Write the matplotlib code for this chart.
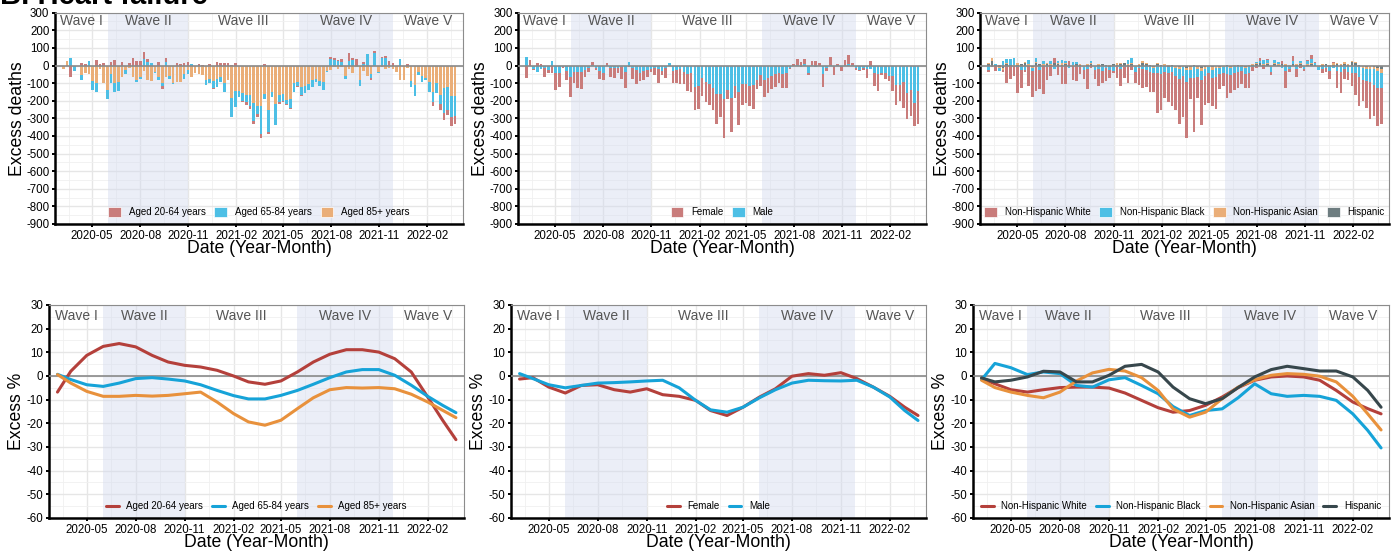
import numpy as np
import pandas as pd
import matplotlib
matplotlib.use('Agg')
import matplotlib.pyplot as plt
from matplotlib.patches import Patch

plt.rcParams['font.family'] = ['Liberation Sans', 'DejaVu Sans']
plt.rcParams['axes.unicode_minus'] = False

# weekly excess deaths, first week 2020-03-07
weeks = pd.date_range('2020-03-07', periods=108, freq='7D')

# panel 1: age groups
age_20_64 = [0, 0, -68, 0, 0, 15, 10, 0, 0, 30, 10, 15, 0, 20, 30, 0, 20, 0, 15, 40,
             25, 25, 40, 15, 0, 0, 20, -15, 25, 0, 0, 15, 10, 15, 20, 0, 0, 10, 5, 0,
             10, -11, 20, 15, 15, 15, 5, 15, 0, -10, -15, -15, -15, -15, -20, 10, -15, 0, 0, -10,
             -10, -5, -5, 0, -5, -5, 0, 0, 0, 0, 0, 0, 0, 15, 10, 5, 15, 0, 45, 10,
             35, 0, 10, 0, -10, 15, 0, 10, 15, 20, 15, 0, 0, 0, 10, 0, 0, 0, 0, 0,
             0, -20, 0, -30, -40, -30, -55, -45]
age_65_84 = [0, 0, 40, -25, -5, -28, 0, 25, -50, -50, 0, 0, -52, -52, -50, -55, 0, -23, 0, 0,
             -15, -15, 35, 20, 15, -6, -15, -15, 20, -19, -4, 0, 0, -24, -23, 8, 0, 0, 0, -28,
             -28, -38, -50, -25, -47, 0, -105, -90, -35, -45, -45, -65, -100, -45, -160, -30, -120, -30, -120, -45,
             -40, -25, -50, -50, -20, -50, -40, -35, -35, -20, -25, -45, -5, 35, 30, 25, 20, -15, 25, 30,
             0, -35, 10, 65, -20, 70, -10, 40, 40, 5, 0, 0, 35, 0, 0, -30, -65, -20, -35, -15,
             -55, -60, -55, -50, -140, -130, -115, -110]
age_85_plus = [-20, 25, 0, -5, 0, -55, -45, -50, -90, -98, -20, -100, -140, -50, -98, -92, -68, -26, -15, -64,
               -80, -64, -30, -83, -87, -36, -68, -102, -68, -60, -100, -92, -92, -50, -26, -68, -45, -50, -55, -83,
               -74, -87, -74, -68, -102, -83, -185, -145, -145, -155, -165, -165, -215, -230, -230, -160, -255, -150, -220, -165,
               -160, -195, -190, -100, -95, -120, -115, -105, -85, -75, -90, -95, -30, -25, -10, -20, -10, -60, -20, -45,
               -10, -80, -30, -60, -50, 0, -35, -10, -20, -15, -20, -35, -80, -80, -15, -90, -110, -35, -60, -70,
               -95, -150, -100, -170, -130, -120, -175, -175]

# panel 2: sex
female = [-70, 30, -5, 12, 8, -50, -15, -45, -100, -75, -5, -55, -115, -65, -90, -100, -40, -20, 15, -15,
          -45, -40, 8, -50, -55, -25, -65, -90, -10, -60, -80, -50, -55, -40, -15, -40, -80, -25, -55, 5,
          -70, -75, -85, -70, -95, -110, -135, -130, -105, -110, -120, -125, -170, -130, -220, -50, -190, -70, -190, -120,
          -110, -115, -135, -55, -60, -95, -85, -75, -70, -55, -75, -80, -5, 10, 30, 20, 25, -10, 20, 25,
          15, -70, -15, 45, -45, 5, -20, 25, 50, 10, -10, -2, -10, -50, 25, -70, -95, -10, -30, -30,
          -85, -115, -90, -145, -150, -145, -130, -185]
male = [50, 0, -18, -38, -22, -15, -25, 28, -40, -45, -10, -30, -65, -35, -35, -35, -25, -15, 5, -12,
        -30, -40, 4, -15, -15, -15, -10, -35, 20, -15, -25, -40, -30, -25, -20, -15, -20, -30, -15, 12,
        -30, -25, -20, -35, -50, -40, -120, -115, -70, -95, -105, -125, -160, -160, -190, -140, -185, -115, -150, -105,
        -105, -115, -110, -80, -55, -85, -70, -60, -50, -45, -50, -45, -15, -5, 5, -10, 10, -45, 5, -10,
        -5, -50, -15, 5, -10, 5, -10, 5, 8, 5, -15, -28, -15, -20, -20, -45, -50, -45, -45, -60,
        -60, -110, -110, -95, -155, -140, -215, -145]

# panel 3: race / ethnicity
nh_white = [-10, -10, -33, 4, -14, -100, -70, -57, -145, -105, -10, -110, -150, -145, -110, -155, -70, -60, 25, -52,
            -105, -105, 22, -80, -85, -40, -50, -115, -15, -50, -95, -70, -75, -45, -15, -60, -95, -60, -100, -28,
            -65, -95, -110, -95, -115, -110, -230, -200, -150, -165, -195, -190, -255, -230, -315, -120, -310, -120, -260, -165,
            -170, -160, -180, -85, -75, -135, -100, -100, -90, -75, -75, -85, -20, -15, 15, -20, 5, -20, -5, -5,
            15, -100, -15, 30, -45, -15, -10, 5, 23, 5, 0, -20, -20, -45, 5, -100, -120, -55, -50, -75,
            -120, -165, -120, -150, -210, -175, -220, -200]
nh_black = [-25, 0, 5, -15, 25, 20, 30, 40, -10, -20, -25, 20, -15, 25, -20, 15, -10, 15, -15, 10,
            15, 10, -10, 15, 10, -10, -15, -20, 10, -15, -20, -25, -10, -15, -25, -10, -20, -5, 20, 30,
            -25, -15, -20, -25, -30, -25, -40, -45, -30, -35, -30, -45, -55, -50, -70, -45, -65, -45, -50, -40,
            -35, -45, -50, -35, -30, -45, -40, -35, -30, -25, -35, -40, -10, 5, 10, 20, 15, -25, 15, 10,
            -10, -30, -15, 15, -20, 10, -10, 15, 20, 10, -15, -20, -10, -25, -15, -30, -35, -20, -35, -40,
            -45, -60, -65, -70, -75, -90, -95, -90]
nh_asian = [5, 15, 0, -5, -10, 5, -5, 5, 10, -5, 5, 10, -5, 5, -5, 10, 5, 5, -5, 5,
            10, 5, -5, 5, -5, 5, -5, 5, 5, -5, 5, -5, -5, 5, -5, 10, 5, -5, 5, 5,
            -5, 5, 10, 5, -5, -5, 5, -5, 10, 5, -5, -10, -10, -5, -10, -15, -5, -10, -15, -10,
            -5, -15, -10, -5, -5, -5, -5, 5, -5, 5, -5, 5, 5, 5, -5, 5, 5, -5, 5, 5,
            -5, 5, 5, -5, 5, 5, -5, 5, 5, -5, -5, 5, -5, 5, 10, 5, 5, 10, 5, 5,
            5, -5, -10, -10, -15, -10, -15, -20]
hispanic = [10, 25, 5, -10, -15, 10, 5, -5, 5, 10, 15, -5, -10, 15, 10, -5, 10, 5, 15, 10,
            5, 10, 5, -5, 10, 5, -5, 5, 10, -5, 5, 10, 5, -10, 10, 5, 10, 15, 5, 10,
            -5, 5, 15, 10, 5, -10, 10, 5, -5, -10, 5, -5, -10, -5, -15, -10, 5, -10, -15, -10,
            -5, -10, -5, -10, -5, 5, -10, -5, 5, -5, -10, -5, 5, 10, 15, 5, 10, -5, 10, 5,
            10, 5, -5, 10, 5, 10, -5, 5, 10, 5, -5, 5, 10, -5, 5, 10, 5, 10, 5, 20,
            15, 5, -5, -10, -5, -10, -15, -20]

# smoothed excess % (read at roughly monthly points)
pct_dates = pd.to_datetime(['2020-03-07', '2020-04-01'] +
                           [d.strftime('%Y-%m-%d') for d in pd.date_range('2020-05-01', '2022-03-01', freq='MS')] +
                           ['2022-03-26'])
pct_20_64 = [-6.8, 2.0, 8.7, 12.5, 13.7, 12.3, 8.7, 5.9, 4.5, 3.8, 2.4, 0.0, -2.5, -3.5, -2.1, 1.7,
             5.9, 9.2, 11.1, 11.1, 10.1, 7.3, 1.7, -8.9, -18.7, -26.9]
pct_65_84 = [0.7, -1.5, -3.7, -4.4, -3.0, -1.1, -0.7, -1.3, -2.1, -3.7, -6.1, -8.3, -9.7, -9.7, -8.2, -6.1,
             -3.5, -0.7, 1.7, 2.7, 2.7, 0.3, -3.9, -8.6, -12.4, -15.5]
pct_85_plus = [0.6, -3.0, -6.5, -8.6, -8.6, -8.2, -8.5, -8.2, -7.5, -6.8, -11.0, -15.9, -19.4, -20.8, -18.7, -13.8,
               -9.2, -5.8, -4.9, -5.1, -4.9, -5.4, -7.7, -11.0, -14.5, -17.6]
pct_female = [-1.3, -0.7, -4.7, -7.2, -4.0, -3.7, -5.8, -6.8, -5.4, -7.9, -8.6, -10.3, -14.6, -16.7, -13.2, -8.9,
              -5.4, -0.1, 1.0, 0.3, 1.4, -1.1, -4.7, -8.6, -13.2, -16.7]
pct_male = [1.0, -1.1, -3.7, -5.0, -4.0, -3.0, -2.8, -2.5, -2.1, -1.8, -5.0, -10.3, -14.3, -15.3, -13.2, -9.2,
            -5.8, -3.0, -1.8, -2.0, -2.1, -1.8, -4.7, -8.9, -14.6, -18.8]
pct_white = [-1.1, -3.3, -5.8, -6.8, -5.8, -4.9, -4.7, -4.7, -5.1, -7.2, -10.3, -13.4, -15.3, -14.6, -12.4, -8.9,
             -4.9, -1.8, -0.4, 0.0, -0.4, -1.8, -6.1, -11.0, -13.8, -16.0]
pct_black = [-1.6, 5.3, 3.5, 0.6, 1.7, 1.0, -4.0, -4.7, -1.6, -0.7, -4.0, -7.5, -12.9, -16.7, -14.6, -13.9,
             -9.2, -3.3, -7.5, -8.6, -8.2, -8.6, -10.3, -16.0, -23.0, -30.4]
pct_asian = [-1.8, -4.9, -6.8, -8.2, -9.2, -6.8, -2.1, 1.3, 2.8, 2.1, -0.7, -6.1, -13.9, -17.4, -15.3, -9.6,
             -4.7, -1.6, 0.3, 1.0, 0.7, -0.1, -2.5, -8.6, -16.0, -22.8]
pct_hispanic = [-0.8, -2.5, -1.8, -0.4, 2.0, 1.7, -2.5, -2.5, 0.3, 4.1, 4.9, 1.7, -4.7, -9.6, -11.7, -9.6,
                -4.9, -0.4, 2.7, 4.1, 3.1, 2.1, 2.1, -0.4, -6.1, -13.2]

waves = ['Wave I', 'Wave II', 'Wave III', 'Wave IV', 'Wave V']
wave_edges = pd.to_datetime(['2020-02-20', '2020-06-01', '2020-11-01', '2021-06-01', '2021-11-28', '2022-04-10'])

bar_red, bar_blue, bar_orange, bar_grey = '#C97C7B', '#4DBFE5', '#EAAE78', '#6E7D80'
ln_red, ln_blue, ln_orange, ln_grey = '#B4403B', '#16A3D8', '#E8913C', '#37474C'

majors = pd.date_range('2020-05-01', '2022-02-01', freq='3MS')
minors = [majors[0] - pd.Timedelta(days=45)] + [m + pd.Timedelta(days=46) for m in majors]


def base_axes(ax, ylim, yticks, yminor, ylab, wave_y, ylab_x):
    ax.set_xlim(wave_edges[0], wave_edges[-1])
    ax.set_ylim(*ylim)
    ax.set_xticks(majors)
    ax.set_xticklabels([m.strftime('%Y-%m') for m in majors])
    ax.set_xticks(minors, minor=True)
    ax.set_yticks(yticks)
    ax.set_yticks(yminor, minor=True)
    ax.grid(True, which='major', color='#E6E6E6', lw=1.0, zorder=0)
    ax.grid(True, which='minor', color='#F0F0F0', lw=0.6, zorder=0)
    ax.set_axisbelow(True)
    for k in (1, 3):
        ax.axvspan(wave_edges[k], wave_edges[k + 1], color='#D3DAEE', alpha=0.45, lw=0, zorder=1)
    for k, w in enumerate(waves):
        mid = wave_edges[k] + (wave_edges[k + 1] - wave_edges[k]) / 2
        ax.text(mid, wave_y, w, ha='center', va='center', fontsize=10, color='#555555', zorder=5)
    ax.axhline(0, color='#8A8A8A', lw=1.2, zorder=4)
    for s in ('left', 'bottom'):
        ax.spines[s].set_color('black')
        ax.spines[s].set_linewidth(1.8)
    for s in ('top', 'right'):
        ax.spines[s].set_color('#8C8C8C')
        ax.spines[s].set_linewidth(0.8)
    ax.tick_params(which='major', labelsize=8.3, length=2.5, width=1.4, colors='black', pad=1.5)
    ax.tick_params(which='minor', length=0)
    ax.set_ylabel(ylab, fontsize=12.7)
    ax.yaxis.set_label_coords(ylab_x, 0.5)
    ax.set_xlabel('Date (Year-Month)', fontsize=12.7, labelpad=-1)


def stacked(ax, series, colors):
    pos = np.zeros(len(weeks))
    neg = np.zeros(len(weeks))
    for vals, c in zip(series, colors):
        v = np.array(vals, dtype=float)
        bottom = np.where(v >= 0, pos, neg)
        ax.bar(weeks, v, width=5, bottom=bottom, color=c, lw=0, zorder=3)
        pos += np.clip(v, 0, None)
        neg += np.clip(v, None, 0)


fig = plt.figure(figsize=(13.99, 5.51), dpi=100)
top_pos = [[0.0393, 0.5935, 0.2916, 0.3835], [0.3703, 0.5935, 0.2916, 0.3835], [0.7005, 0.5935, 0.2924, 0.3835]]
bot_pos = [[0.0350, 0.0599, 0.2966, 0.3866], [0.3653, 0.0599, 0.2966, 0.3866], [0.6955, 0.0599, 0.2974, 0.3866]]

bar_sets = [
    ([age_85_plus, age_65_84, age_20_64], [bar_orange, bar_blue, bar_red],
     ['Aged 20-64 years', 'Aged 65-84 years', 'Aged 85+ years'], [bar_red, bar_blue, bar_orange]),
    ([male, female], [bar_blue, bar_red], ['Female', 'Male'], [bar_red, bar_blue]),
    ([hispanic, nh_asian, nh_black, nh_white], [bar_grey, bar_orange, bar_blue, bar_red],
     ['Non-Hispanic White', 'Non-Hispanic Black', 'Non-Hispanic Asian', 'Hispanic'],
     [bar_red, bar_blue, bar_orange, bar_grey]),
]
for pos, (series, cols, labs, lcols) in zip(top_pos, bar_sets):
    ax = fig.add_axes(pos)
    base_axes(ax, (-900, 300), np.arange(-900, 301, 100), np.arange(-850, 300, 100), 'Excess deaths', 253,
              -0.07)
    stacked(ax, series, cols)
    handles = [Patch(facecolor=c, edgecolor='white', lw=0.5) for c in lcols]
    ax.legend(handles, labs, loc='lower center', bbox_to_anchor=(0.5, 0.0), ncol=len(labs), frameon=False,
              fontsize=7, handlelength=1.3, handleheight=1.3, columnspacing=0.9, handletextpad=0.8,
              borderaxespad=0.3)

line_sets = [
    ([pct_20_64, pct_65_84, pct_85_plus], [ln_red, ln_blue, ln_orange],
     ['Aged 20-64 years', 'Aged 65-84 years', 'Aged 85+ years']),
    ([pct_female, pct_male], [ln_red, ln_blue], ['Female', 'Male']),
    ([pct_white, pct_black, pct_asian, pct_hispanic], [ln_red, ln_blue, ln_orange, ln_grey],
     ['Non-Hispanic White', 'Non-Hispanic Black', 'Non-Hispanic Asian', 'Hispanic']),
]
for pos, (series, cols, labs) in zip(bot_pos, line_sets):
    ax = fig.add_axes(pos)
    base_axes(ax, (-60, 30), np.arange(-60, 31, 10), np.arange(-55, 30, 10), 'Excess %', 25.5, -0.057)
    for vals, c, lab in zip(series, cols, labs):
        ax.plot(pct_dates, vals, color=c, lw=2.2, label=lab, zorder=4,
                solid_capstyle='round', solid_joinstyle='round')
    ax.legend(loc='lower center', bbox_to_anchor=(0.5, 0.0), ncol=len(labs), frameon=False,
              fontsize=7, handlelength=1.3, columnspacing=0.9, handletextpad=0.8, borderaxespad=0.3)

fig.text(0.0, 0.9935, 'B. Heart failure', fontsize=21, fontweight='bold', ha='left', va='baseline')

fig.savefig('out.png', dpi=100)
